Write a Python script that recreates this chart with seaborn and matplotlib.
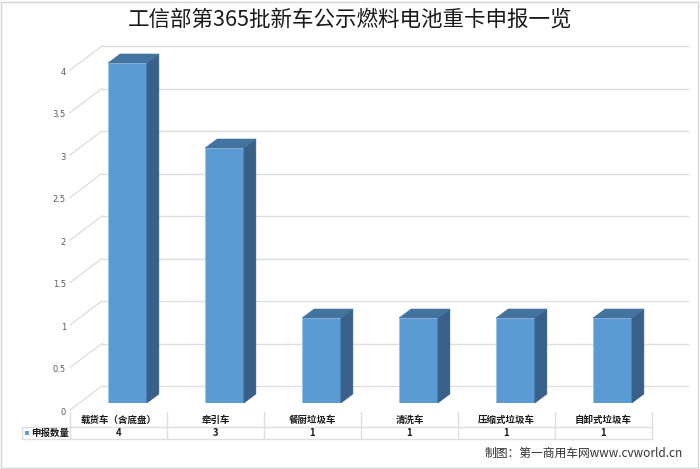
import matplotlib
matplotlib.use("Agg")
import matplotlib.pyplot as plt
import seaborn as sns
import pandas as pd
from matplotlib.patches import Polygon, Rectangle
from matplotlib.lines import Line2D
from matplotlib.transforms import IdentityTransform

# ---- data -------------------------------------------------------------
categories = ["载货车（含底盘）", "牵引车", "餐厨垃圾车", "清洗车", "压缩式垃圾车", "自卸式垃圾车"]
counts = [4, 3, 1, 1, 1, 1]
y_ticks = [0, 0.5, 1, 1.5, 2, 2.5, 3, 3.5, 4]
series_name = "申报数量"
title = "工信部第365批新车公示燃料电池重卡申报一览"
credit = "制图：第一商用车网www.cvworld.cn"

# ---- style ------------------------------------------------------------
W, H, DPI = 700, 469, 100
FRONT = "#5b9bd5"
SIDE = "#386089"
TOP = "#43739f"
GRID = "#dedede"
TXT = "#595959"

sns.set_theme(style="white")
plt.rcParams["font.family"] = ["Noto Sans CJK SC", "DejaVu Sans"]

fig = plt.figure(figsize=(W / DPI, H / DPI), dpi=DPI)
fig.patch.set_facecolor("white")

# plot area (plane through the bar fronts)
ax = fig.add_axes([79 / W, 1 - 403 / H, 582 / W, 340 / H])
df = pd.DataFrame({"category": categories, "count": counts})
sns.barplot(data=df, x="category", y="count", color=FRONT, saturation=1,
            width=0.4, edgecolor="#9cc2e6", linewidth=0.6, ax=ax, zorder=3)
ax.set_xlim(-0.5, len(categories) - 0.5)
ax.set_ylim(0, max(y_ticks))
ax.axis("off")

ident = IdentityTransform()
# depth offsets in pixels (x right, y up)
BAR_DX, BAR_DY = 12, 9          # depth of each box
BACK_DX, BACK_DY = 23, 17       # bar plane -> back wall
FRONT_DX, FRONT_DY = -9, -7     # bar plane -> front edge of floor


def to_px(x, y):
    return ax.transData.transform((x, y))


x_left, x_right = ax.get_xlim()

# back wall gridlines and left wall diagonals
for v in y_ticks:
    lx, ly = to_px(x_left, v)
    rx, _ = to_px(x_right, v)
    ax.add_line(Line2D([lx + BACK_DX, rx + BACK_DX + 4], [ly + BACK_DY, ly + BACK_DY],
                       transform=ident, color=GRID, lw=1.0, clip_on=False, zorder=1))
    ax.add_line(Line2D([lx + FRONT_DX, lx + BACK_DX], [ly + FRONT_DY, ly + BACK_DY],
                       transform=ident, color=GRID, lw=1.0, clip_on=False, zorder=1))
    ax.text(lx + FRONT_DX - 4, ly + FRONT_DY - 2, f"{v:g}", transform=ident,
            ha="right", va="center", fontsize=6, color=TXT,
            family=["DejaVu Sans"])

# side and top faces of each bar
for p in ax.patches:
    x0, y0 = to_px(p.get_x(), 0)
    x1, y1 = to_px(p.get_x() + p.get_width(), p.get_height())
    side = [(x1, y0), (x1 + BAR_DX, y0 + BAR_DY), (x1 + BAR_DX, y1 + BAR_DY), (x1, y1)]
    top = [(x0, y1), (x1, y1), (x1 + BAR_DX, y1 + BAR_DY), (x0 + BAR_DX, y1 + BAR_DY)]
    ax.add_patch(Polygon(side, closed=True, transform=ident, facecolor=SIDE,
                         edgecolor=SIDE, lw=0.4, clip_on=False, zorder=3))
    ax.add_patch(Polygon(top, closed=True, transform=ident, facecolor=TOP,
                         edgecolor=TOP, lw=0.4, clip_on=False, zorder=3))

# ---- data table under the chart ---------------------------------------
_, floor_y = to_px(0, 0)
row_top = floor_y + FRONT_DY - 2
row_mid = row_top - 15
row_bot = row_mid - 12
legend_left = 22
col_edges = [to_px(i - 0.5, 0)[0] + FRONT_DX for i in range(len(categories) + 1)]

lines = []
for xe in col_edges:
    lines.append(([xe, xe], [row_top, row_bot]))
lines.append(([legend_left, col_edges[-1]], [row_mid, row_mid]))
lines.append(([legend_left, col_edges[-1]], [row_bot, row_bot]))
lines.append(([legend_left, legend_left], [row_mid, row_bot]))
for xs, ys in lines:
    ax.add_line(Line2D(xs, ys, transform=ident, color=GRID, lw=1.0,
                       clip_on=False, zorder=1))

for i, (cat, n) in enumerate(zip(categories, counts)):
    cx = (col_edges[i] + col_edges[i + 1]) / 2
    ax.text(cx, (row_top + row_mid) / 2, cat, transform=ident, ha="center",
            va="center", fontsize=6.8, fontweight="bold", color="#1a1a1a")
    ax.text(cx, (row_mid + row_bot) / 2, f"{n}", transform=ident, ha="center",
            va="center", fontsize=6.8, fontweight="bold", color="#1a1a1a")

ym = (row_mid + row_bot) / 2
ax.add_patch(Rectangle((legend_left + 3, ym - 2), 4, 4, transform=ident,
                       facecolor=FRONT, edgecolor="none", clip_on=False))
ax.text(legend_left + 9, ym, series_name, transform=ident, ha="left",
        va="center", fontsize=6.8, fontweight="bold", color="#1a1a1a")

# ---- titles and frame ---------------------------------------------------
fig.text(0.5, 1 - 20 / H, title, ha="center", va="center", fontsize=15.5,
         color="#1a1a1a")
fig.text(683 / W, 1 - 453 / H, credit, ha="right", va="center", fontsize=8.5,
         color="#333333")
fig.add_artist(Rectangle((1 / W, 1 / H), 1 - 3 / W, 1 - 3 / H,
                         transform=fig.transFigure, facecolor="none",
                         edgecolor="#d4d4d4", lw=1.0))

fig.savefig("out.png", dpi=DPI)
